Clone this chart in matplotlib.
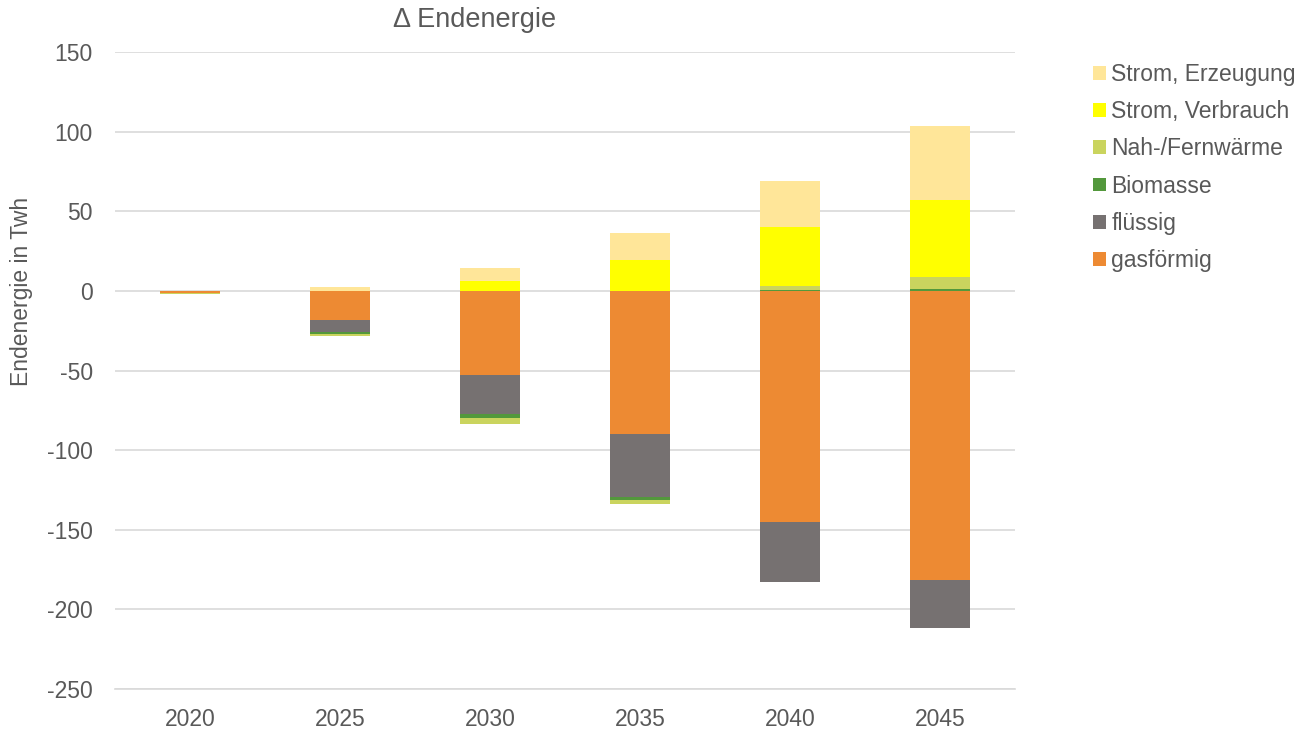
import matplotlib
matplotlib.use("Agg")
import matplotlib.pyplot as plt
import numpy as np

plt.rcParams['font.family'] = ['Liberation Sans', 'DejaVu Sans']
plt.rcParams['axes.unicode_minus'] = False

years = ["2020", "2025", "2030", "2035", "2040", "2045"]
gas = [-1.2, -18.5, -52.7, -89.8, -145.0, -181.5]
fluessig = [0.0, -7.3, -24.5, -39.7, -37.7, -30.0]
biomasse = [0.0, -1.0, -2.7, -1.7, 0.5, 1.3]
fernwaerme = [-0.6, -1.7, -3.8, -2.5, 2.5, 7.7]
strom_verbrauch = [0.0, 0.0, 6.5, 19.5, 37.2, 48.0]
strom_erzeugung = [0.0, 2.5, 7.8, 17.0, 28.8, 46.6]

series = [
    ("gasförmig", gas, "#ED8A33"),
    ("flüssig", fluessig, "#767171"),
    ("Biomasse", biomasse, "#53983C"),
    ("Nah-/Fernwärme", fernwaerme, "#CAD45E"),
    ("Strom, Verbrauch", strom_verbrauch, "#FFFF00"),
    ("Strom, Erzeugung", strom_erzeugung, "#FFE699"),
]

fig = plt.figure(figsize=(13.08, 7.31), dpi=100)
ax = fig.add_axes([115/1308, 1 - 689/731, 900/1308, (689-52)/731])

x = np.arange(len(years))
pos = np.zeros(len(years))
neg = np.zeros(len(years))
handles = []
for name, vals, col in series:
    v = np.array(vals, dtype=float)
    bottom = np.where(v >= 0, pos, neg)
    b = ax.bar(x, v, 0.4, bottom=bottom, color=col, label=name, zorder=3,
               linewidth=0)
    handles.append(b)
    pos = pos + np.where(v >= 0, v, 0)
    neg = neg + np.where(v < 0, v, 0)

ax.set_xlim(-0.5, len(years) - 0.5)
ax.set_ylim(-250, 150)
ax.set_yticks(np.arange(-250, 151, 50))
ax.set_xticks(x)
ax.set_xticklabels(years)
ax.grid(axis='y', color='#D9D9D9', linewidth=1.2, zorder=0)
for s in ['top', 'right', 'left']:
    ax.spines[s].set_visible(False)
ax.spines['bottom'].set_color('#D9D9D9')
ax.spines['bottom'].set_linewidth(1.2)
ax.tick_params(axis='y', length=0, labelsize=16.5, colors='#595959', pad=16)
ax.tick_params(axis='x', length=0, labelsize=16.5, colors='#595959', pad=13.5)

fig.text(22/1308, 1 - 291/731, "Endenergie in Twh", rotation=90, ha='center',
         va='center', fontsize=16.5, color='#595959')

fig.text(475/1308, 1 - 20/731, "Δ Endenergie", ha='center', va='center',
         fontsize=19.5, color='#595959')

leg = fig.legend(handles[::-1], [s[0] for s in series][::-1],
                 loc='upper left', bbox_to_anchor=(1093/1308, 1 - 63/731),
                 frameon=False, fontsize=16.5, handlelength=0.55, handleheight=0.55,
                 handletextpad=0.25, labelspacing=0.62, borderpad=0, borderaxespad=0)
for t in leg.get_texts():
    t.set_color('#595959')

fig.savefig("out.png", dpi=100)
